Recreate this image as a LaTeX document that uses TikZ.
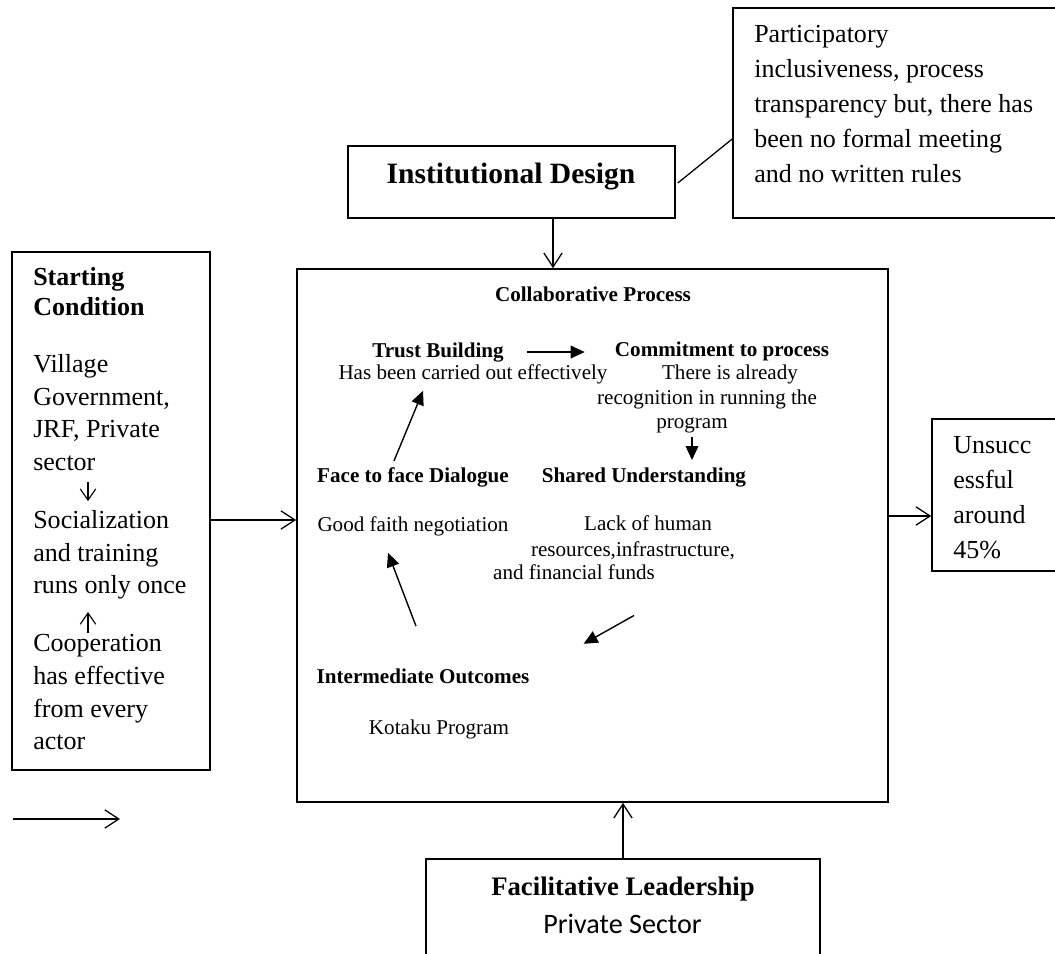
\documentclass[tikz,border=0pt]{standalone}
\usepackage{fontspec}
\setmainfont{Liberation Serif}
\newfontfamily\calibri{Carlito}
\usetikzlibrary{arrows.meta, calc, positioning}

\begin{document}
\begin{tikzpicture}[x=0.025cm, y=-0.025cm]
\tikzstyle{frame}=[draw, line width=1.1pt, inner sep=0pt]
\tikzstyle{big}=[inner sep=0pt, align=left, anchor=north west, font=\fontsize{18.5}{23.3}\selectfont]
\tikzstyle{small}=[inner sep=0pt, anchor=base, font=\fontsize{15}{18}\selectfont]
\tikzstyle{smallbf}=[small, font=\fontsize{15}{18}\selectfont\bfseries]
\tikzstyle{open}=[line width=0.9pt, -{Straight Barb[length=10pt, width=13pt]}]
\tikzstyle{tiny}=[line width=0.8pt, -{Straight Barb[length=8pt, width=11pt]}]
\tikzstyle{solid}=[line width=1pt, -{Triangle[length=10pt, width=9pt]}]
\useasboundingbox (0,0) rectangle (1055,954);

% boxes
\node[frame, minimum width=4.95cm, minimum height=12.95cm] (SC) at (111,511) {};
\node[frame, minimum width=14.775cm, minimum height=13.325cm] (CP) at (592.5,535.5) {};
\node[frame, minimum width=8.175cm, minimum height=1.8cm] (ID) at (511.5,182) {};
\node[frame, minimum width=8.3cm, minimum height=5.25cm] (PT) at (899,113) {};
\node[frame, minimum width=3.325cm, minimum height=3.8cm] (US) at (998.5,495) {};
\node[frame, minimum width=9.85cm, minimum height=2.65cm] (FL) at (623,912) {};

% box texts
\node[inner sep=0pt, anchor=base, font=\fontsize{21}{25}\selectfont\bfseries] (IDt) at (511,183) {Institutional Design};
\node[big, font=\fontsize{18.5}{24.9}\selectfont] (PTx) at (754,25) {Participatory\\inclusiveness, process\\transparency but, there has\\been no formal meeting\\and no written rules};
\node[big, font=\fontsize{18.5}{24.9}\selectfont] (USx) at (953,436) {Unsucc\\essful\\around\\45\%};
\node[inner sep=0pt, anchor=base, font=\fontsize{19}{23}\selectfont\bfseries] (FLt) at (623,895) {Facilitative Leadership};
\node[inner sep=0pt, anchor=base, font=\fontsize{20}{24}\selectfont\calibri] (FLb) at (622.5,933) {Private Sector};

% starting condition
\node[big, font=\fontsize{18.5}{21.3}\selectfont\bfseries] (SCt) at (33,267) {Starting\\Condition};
\node[big] (SC1) at (33,354) {Village\\Government,\\JRF, Private\\sector};
\node[big] (SC2) at (33,510) {Socialization\\and training\\runs only once};
\node[big] (SC3) at (33,634) {Cooperation\\has effective\\from every\\actor};
\draw[tiny] ($(SC1.south west)+(55,11)$) -- ++(0,19);
\draw[tiny] ($(SC3.north west)+(55,-1)$) -- ++(0,-21);

% collaborative process
\node[smallbf] (CPt) at (593,301) {Collaborative Process};
\node[smallbf] (TBt) at (438,357) {Trust Building};
\node[small] (TBb) at (473,379) {Has been carried out effectively};
\node[smallbf] (CMt) at (722,356) {Commitment to process};
\node[small] (CM1) at (730,379) {There is already};
\node[small] (CM2) at (707,404) {recognition in running the};
\node[small] (CM3) at (692,428) {program};
\node[smallbf] (FDt) at (413,482) {Face to face Dialogue};
\node[small] (FDb) at (413,531) {Good faith negotiation};
\node[smallbf] (SUt) at (644,482) {Shared Understanding};
\node[small] (SU1) at (648,530) {Lack of human};
\node[small] (SU2) at (633,556) {resources,infrastructure,};
\node[small] (SU3) at (574,579) {and financial funds};
\node[smallbf] (IOt) at (423,683) {Intermediate Outcomes};
\node[small] (IOb) at (439,734) {Kotaku Program};

\draw[solid, shorten <=0.575cm, shorten >=0.75cm] (TBt.east) -- (TBt.east -| CMt.west);
\draw[solid, shorten <=0.1cm, shorten >=0.175cm] (CM3.south) -- (CM3.south |- SUt.north);
\draw[solid] ($(FDt.north)+(-19,-6)$) -- ($(TBb.south)+(-50,7)$);
\draw[solid] ($(IOt.north)+(-7,-42)$) -- ($(FDb.south)+(-25,17)$);
\draw[solid] ($(SU3.south)+(60,36)$) -- ($(IOt.east)+(54,-32)$);

% connectors
\coordinate (SCout) at ($(SC.east)+(0,9)$);
\coordinate (IDout) at ($(ID.south)+(41.5,0)$);
\coordinate (CPout) at ($(CP.east)+(0,-19.5)$);
\draw[open] (SCout) -- (SCout -| CP.west);
\draw[open] (IDout) -- (IDout |- CP.north);
\draw[open] (CPout) -- (CPout -| US.west);
\draw[open] (FL.north) -- (FL.north |- CP.south);
\draw[line width=0.9pt] ($(ID.east)+(2,1)$) -- ($(PT.west)+(0,26)$);

% free arrow
\coordinate (keyA) at (13,819);
\coordinate (keyB) at (120,819);
\draw[open] (keyA) -- (keyB);

\end{tikzpicture}
\end{document}
